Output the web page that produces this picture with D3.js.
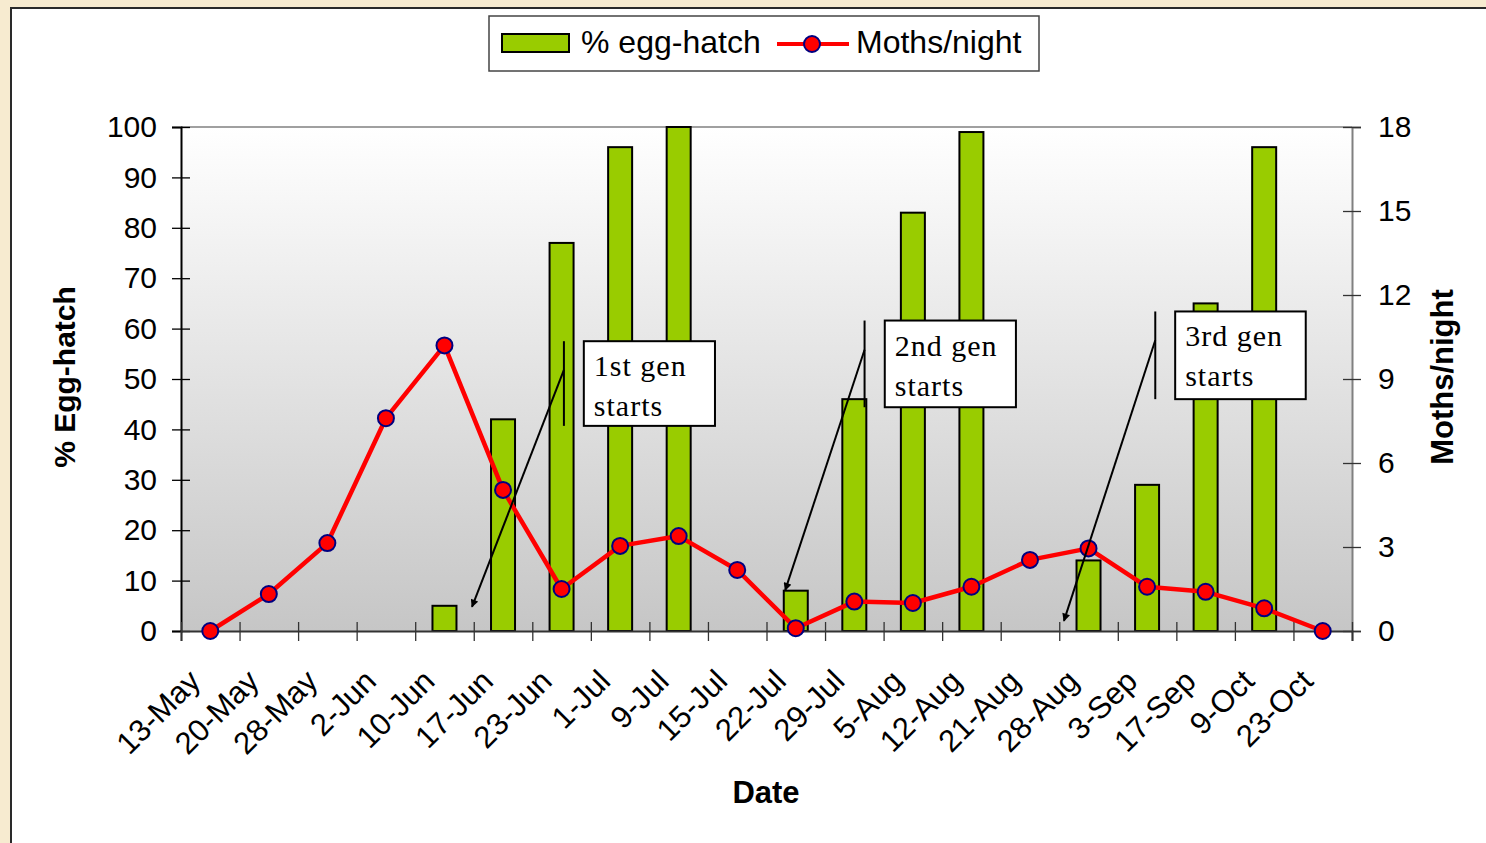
<!DOCTYPE html>
<html><head><meta charset="utf-8">
<script src="https://cdn.jsdelivr.net/npm/d3@7"></script>
<style>html,body{margin:0;padding:0;background:#f7ebd0;overflow:hidden}</style>
</head><body><svg id="c" width="1486" height="843"></svg>
<script>
const categories = ["13-May","20-May","28-May","2-Jun","10-Jun","17-Jun","23-Jun","1-Jul","9-Jul","15-Jul","22-Jul","29-Jul","5-Aug","12-Aug","21-Aug","28-Aug","3-Sep","17-Sep","9-Oct","23-Oct"];
const eggHatch = [null,null,null,null,5,42,77,96,100,null,8,46,83,99,null,14,29,65,96,null];
const mothsPerNight = [0,1.32,3.14,7.6,10.2,5.04,1.5,3.04,3.39,2.18,0.1,1.05,1.0,1.58,2.54,2.95,1.58,1.4,0.81,0];
const leftTicks = [0,10,20,30,40,50,60,70,80,90,100];
const rightTicks = [0,3,6,9,12,15,18];
const seriesNames = ["% egg-hatch","Moths/night"];
// annotation anchors in data units (category index, % egg-hatch)
const annotationText = [["1st gen","starts"],["2nd gen","starts"],["3rd gen","starts"]];
const annotationLineX = [6.54, 11.675, 16.64];
const annotationTop = [57.5, 61.6, 63.4];
const annotationBottom = [40.7, 44.4, 46.0];
const annotationArrowFromY = [51.8, 55.8, 57.7];
const annotationArrowToX = [4.97, 10.32, 15.08];
const annotationArrowToY = [4.8, 8.1, 2.0];
const annotationBoxX0 = [6.88, 12.02, 16.98];
const annotationBoxX1 = [9.12, 14.26, 19.21];

const W = 1486, H = 843;
const svg = d3.select("#c");
const SANS = "'Liberation Sans', Arial, sans-serif";
const SERIF = "'Liberation Serif', 'Times New Roman', serif";

const defs = svg.append("defs");
const grad = defs.append("linearGradient").attr("id","plotGrad").attr("x1",0).attr("y1",0).attr("x2",0).attr("y2",1);
grad.append("stop").attr("offset","0%").attr("stop-color","#ffffff");
grad.append("stop").attr("offset","100%").attr("stop-color","#c6c6c6");
defs.append("marker").attr("id","arrowHead").attr("viewBox","0 0 10 10").attr("refX",9).attr("refY",5)
  .attr("markerWidth",9).attr("markerHeight",8).attr("markerUnits","userSpaceOnUse").attr("orient","auto")
  .append("path").attr("d","M0,0 L10,5 L0,10 Z").attr("fill","#000");

svg.append("rect").attr("width",W).attr("height",H).attr("fill","#f7ebd0");
svg.append("rect").attr("x",11).attr("y",8).attr("width",W).attr("height",H).attr("fill","#fff")
  .attr("stroke","#2a2a2a").attr("stroke-width",2);

const m = {left:181, right:1352, top:127, bottom:631};
const x = d3.scaleBand().domain(categories).range([m.left, m.right]).padding(0);
const xi = d3.scaleLinear().domain([0, categories.length]).range([m.left, m.right]);
const yL = d3.scaleLinear().domain([0,100]).range([m.bottom, m.top]);
const yR = d3.scaleLinear().domain([0,18]).range([m.bottom, m.top]);

// plot background
svg.append("rect").attr("x",m.left).attr("y",m.top).attr("width",m.right-m.left).attr("height",m.bottom-m.top)
  .attr("fill","url(#plotGrad)");
svg.append("line").attr("x1",m.left).attr("x2",m.right).attr("y1",m.top).attr("y2",m.top)
  .attr("stroke","#808080").attr("stroke-width",1.5);

// bars
const bw = 24;
svg.append("g").selectAll("rect").data(categories.map((c,i)=>({c, v:eggHatch[i]})).filter(d=>d.v!=null))
  .join("rect")
  .attr("x", d => x(d.c) + x.bandwidth()/2 - bw/2)
  .attr("y", d => yL(d.v))
  .attr("width", bw)
  .attr("height", d => yL(0) - yL(d.v))
  .attr("fill","#99cc00").attr("stroke","#000").attr("stroke-width",2);

// left axis
const gL = svg.append("g").attr("transform",`translate(${m.left},0)`)
  .call(d3.axisLeft(yL).tickValues(leftTicks).tickSize(9).tickPadding(15));
gL.select(".domain").attr("stroke","#000").attr("stroke-width",2);
gL.selectAll(".tick line").attr("x1",9).attr("x2",-9).attr("stroke","#000").attr("stroke-width",1.3);
gL.selectAll(".tick text").attr("font-family",SANS).attr("font-size",30).attr("fill","#000");

// right axis
const gR = svg.append("g").attr("transform",`translate(${m.right},0)`)
  .call(d3.axisRight(yR).tickValues(rightTicks).tickSize(9).tickPadding(17));
gR.select(".domain").attr("stroke","#808080").attr("stroke-width",2);
gR.selectAll(".tick line").attr("x1",-9).attr("x2",9).attr("stroke","#333").attr("stroke-width",1.3);
gR.selectAll(".tick text").attr("font-family",SANS).attr("font-size",30).attr("fill","#000");

// x axis: boundary ticks
const gX = svg.append("g").attr("transform",`translate(0,${m.bottom})`)
  .call(d3.axisBottom(xi).tickValues(d3.range(categories.length+1)).tickSize(10).tickFormat(""));
gX.select(".domain").attr("stroke","#333").attr("stroke-width",2);
gX.selectAll(".tick line").attr("y1",-9).attr("y2",10).attr("stroke","#333").attr("stroke-width",1.3);

// x labels
const gXL = svg.append("g").attr("transform",`translate(0,${m.bottom})`)
  .call(d3.axisBottom(x).tickSize(0));
gXL.select(".domain").remove();
gXL.selectAll(".tick text").attr("font-family",SANS).attr("font-size",31).attr("fill","#000")
  .attr("text-anchor","end").attr("x",0).attr("y",0).attr("dy",null)
  .attr("transform","translate(-8,52) rotate(-45)");

// line
const lineGen = d3.line().x((d,i)=>x(categories[i]) + x.bandwidth()/2).y(d=>yR(d));
svg.append("path").datum(mothsPerNight).attr("d",lineGen).attr("fill","none")
  .attr("stroke","#ff0000").attr("stroke-width",4.5).attr("stroke-linejoin","round");
svg.append("g").selectAll("circle").data(mothsPerNight).join("circle")
  .attr("cx",(d,i)=>x(categories[i]) + x.bandwidth()/2).attr("cy",d=>yR(d)).attr("r",8)
  .attr("fill","#ff0000").attr("stroke","#000080").attr("stroke-width",2);

// annotations
annotationText.forEach((lines,k)=>{
  const g = svg.append("g");
  g.append("line").attr("x1",xi(annotationLineX[k])).attr("x2",xi(annotationLineX[k]))
    .attr("y1",yL(annotationTop[k])).attr("y2",yL(annotationBottom[k])).attr("stroke","#000").attr("stroke-width",2);
  g.append("line").attr("x1",xi(annotationLineX[k])).attr("y1",yL(annotationArrowFromY[k]))
    .attr("x2",xi(annotationArrowToX[k])).attr("y2",yL(annotationArrowToY[k]))
    .attr("stroke","#000").attr("stroke-width",2).attr("marker-end","url(#arrowHead)");
  const bx = xi(annotationBoxX0[k]), by = yL(annotationTop[k]);
  g.append("rect").attr("x",bx).attr("y",by).attr("width",xi(annotationBoxX1[k])-bx)
    .attr("height",yL(annotationBottom[k])-by).attr("fill","#fff").attr("stroke","#000").attr("stroke-width",2);
  lines.forEach((t,j)=>{
    g.append("text").attr("x",bx+10).attr("y",by+35+j*40).text(t)
      .attr("font-family",SERIF).attr("font-size",30).attr("letter-spacing",1).attr("fill","#000");
  });
});

// axis titles
svg.append("text").attr("transform",`translate(75,377) rotate(-90)`).attr("text-anchor","middle")
  .attr("font-family",SANS).attr("font-weight","bold").attr("font-size",30).text("% Egg-hatch");
svg.append("text").attr("transform",`translate(1453,377) rotate(-90)`).attr("text-anchor","middle")
  .attr("font-family",SANS).attr("font-weight","bold").attr("font-size",31).text("Moths/night");
svg.append("text").attr("x",766).attr("y",803).attr("text-anchor","middle")
  .attr("font-family",SANS).attr("font-weight","bold").attr("font-size",31).text("Date");

// legend
const lg = svg.append("g");
lg.append("rect").attr("x",489).attr("y",16).attr("width",550).attr("height",55)
  .attr("fill","#fff").attr("stroke","#444").attr("stroke-width",1.5);
lg.append("rect").attr("x",502).attr("y",34).attr("width",67).attr("height",18)
  .attr("fill","#99cc00").attr("stroke","#000").attr("stroke-width",2);
lg.append("text").attr("x",581).attr("y",53).attr("font-family",SANS).attr("font-size",32).text(seriesNames[0]);
lg.append("line").attr("x1",777).attr("x2",849).attr("y1",44).attr("y2",44).attr("stroke","#ff0000").attr("stroke-width",4);
lg.append("circle").attr("cx",812).attr("cy",44).attr("r",8).attr("fill","#ff0000").attr("stroke","#000080").attr("stroke-width",2);
lg.append("text").attr("x",856).attr("y",53).attr("font-family",SANS).attr("font-size",32).text(seriesNames[1]);
</script></body></html>
